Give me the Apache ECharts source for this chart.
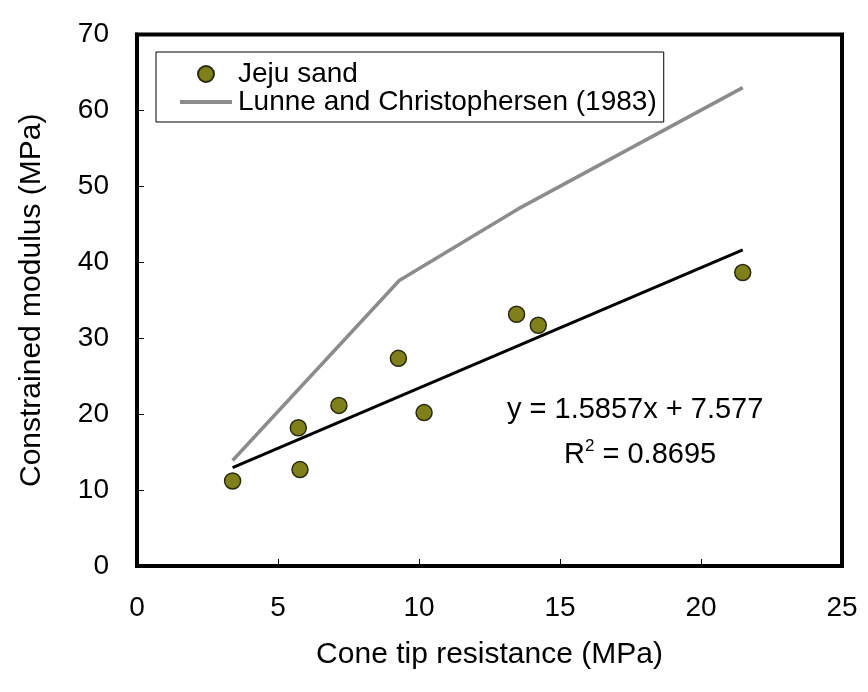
<!DOCTYPE html>
<html>
<head>
<meta charset="utf-8">
<script src="https://cdn.jsdelivr.net/npm/echarts@6/dist/echarts.min.js"></script>
<style>
html,body{margin:0;padding:0;background:#fff;}
#chart{width:868px;height:692px;}
</style>
</head>
<body>
<div id="chart"></div>
<script>
// Measured data (Jeju sand)
const jejuX = [3.39, 5.72, 5.78, 7.16, 9.27, 10.18, 13.46, 14.23, 21.48];
const jejuY = [11.2, 18.2, 12.7, 21.15, 27.35, 20.2, 33.15, 31.7, 38.65];
// Lunne and Christophersen (1983) curve
const lunneX = [3.39, 9.3, 13.5, 21.48];
const lunneY = [13.9, 37.6, 47.0, 63.0];
// Linear trend line endpoints
const trendX = [3.39, 21.48];
const trendY = [12.95, 41.65];
// Axis ticks
const xTicks = [0, 5, 10, 15, 20, 25];
const yTicks = [0, 10, 20, 30, 40, 50, 60, 70];
const eqText = 'y = 1.5857x + 7.577';
const r2Text = '0.8695';

const FONT = '"Liberation Sans", Arial, sans-serif';
const zip = (xs, ys) => xs.map((x, i) => [x, ys[i]]);

const chart = echarts.init(document.getElementById('chart'));
chart.setOption({
  backgroundColor: '#fff',
  animation: false,
  textStyle: { fontFamily: FONT },
  grid: {
    left: 137, right: 26, top: 34.5, bottom: 126,
    show: true, borderColor: '#000', borderWidth: 4, backgroundColor: 'transparent'
  },
  xAxis: {
    type: 'value', min: xTicks[0], max: xTicks[xTicks.length - 1], interval: 5,
    name: 'Cone tip resistance (MPa)', nameLocation: 'middle', nameGap: 74,
    nameTextStyle: { fontSize: 30, color: '#000', fontFamily: FONT },
    axisLine: { show: true, onZero: false, lineStyle: { color: '#000', width: 4 } },
    axisTick: { show: true, inside: true, length: 7, lineStyle: { color: '#000', width: 1 } },
    axisLabel: { fontSize: 28, color: '#000', margin: 28, fontFamily: FONT },
    splitLine: { show: false }
  },
  yAxis: {
    type: 'value', min: yTicks[0], max: yTicks[yTicks.length - 1], interval: 10,
    name: 'Constrained modulus (MPa)', nameLocation: 'middle', nameGap: 90,
    nameTextStyle: { fontSize: 30, color: '#000', fontFamily: FONT },
    axisLine: { show: true, onZero: false, lineStyle: { color: '#000', width: 4 } },
    axisTick: { show: true, inside: true, length: 7, lineStyle: { color: '#000', width: 1 } },
    axisLabel: { fontSize: 28, color: '#000', margin: 28, fontFamily: FONT },
    splitLine: { show: false }
  },
  legend: {
    orient: 'vertical', left: 156, top: 52,
    padding: [8, 7, 6, 24],
    borderColor: '#000', borderWidth: 1, backgroundColor: '#fff',
    itemWidth: 52, itemHeight: 16, itemGap: 0,
    textStyle: { fontSize: 28, color: '#000', lineHeight: 28, fontFamily: FONT, padding: [0, 0, 0, 1] },
    data: [
      { name: 'Jeju sand' },
      { name: 'Lunne and Christophersen (1983)', icon: 'path://M0,0 H52 V4 H0 Z' }
    ]
  },
  series: [
    {
      name: 'Lunne and Christophersen (1983)', type: 'line',
      data: zip(lunneX, lunneY), symbol: 'none', z: 2,
      lineStyle: { color: '#8c8c8c', width: 3.5 }, itemStyle: { color: '#8c8c8c' }
    },
    {
      name: 'trend', type: 'line', data: zip(trendX, trendY), symbol: 'none', z: 3,
      lineStyle: { color: '#000', width: 3 }, itemStyle: { color: '#000' }
    },
    {
      name: 'Jeju sand', type: 'scatter', data: zip(jejuX, jejuY), z: 4,
      symbol: 'circle', symbolSize: 16,
      itemStyle: { color: '#80801a', borderColor: '#2a2a10', borderWidth: 1.5, opacity: 1 }
    }
  ],
  graphic: [
    {
      type: 'text', left: 507, top: 395, z: 10,
      style: { text: eqText, font: '29px ' + FONT, fill: '#000' }
    },
    {
      type: 'text', left: 564, top: 438, z: 10,
      style: {
        text: '{b|R}{s|2}{b| = ' + r2Text + '}',
        rich: {
          b: { font: '29px ' + FONT, fill: '#000', verticalAlign: 'bottom' },
          s: { font: '17px ' + FONT, fill: '#000', verticalAlign: 'top', padding: [0, 0, 14, 0] }
        }
      }
    }
  ]
});
</script>
</body>
</html>
